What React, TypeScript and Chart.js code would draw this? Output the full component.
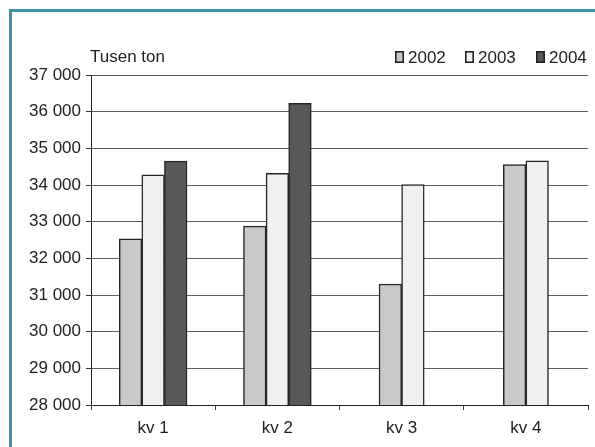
import React, { useEffect, useRef } from "react";
import { Chart, registerables } from "chart.js";

Chart.register(...registerables);

const categories = ["kv 1", "kv 2", "kv 3", "kv 4"];
const seriesNames = ["2002", "2003", "2004"];
const values2002 = [32530, 32880, 31300, 34560];
const values2003 = [34280, 34320, 34010, 34660];
const values2004: (number | null)[] = [34650, 36230, null, null];
const yMin = 28000;
const yMax = 37000;
const yStep = 1000;
const unitLabel = "Tusen ton";

const seriesColors = ["#c8c9cb", "#eff0f2", "#58585a"];
const FONT_FAMILY = '"Liberation Sans", Arial, Helvetica, sans-serif';
const FONT_SIZE = 17;
const TEXT_COLOR = "#222222";

const formatThousands = (v: number) =>
  String(Math.round(v)).replace(/\B(?=(\d{3})+(?!\d))/g, " ");

const overlayPlugin = {
  id: "overlay",
  afterDraw(chart: any) {
    const ctx = chart.ctx as CanvasRenderingContext2D;
    ctx.save();
    ctx.font = `${FONT_SIZE}px ${FONT_FAMILY}`;
    ctx.fillStyle = TEXT_COLOR;
    ctx.textBaseline = "alphabetic";
    ctx.textAlign = "left";
    ctx.fillText(unitLabel, 90, 62);
    const boxXs = [395, 465, 536];
    seriesNames.forEach((name, i) => {
      const bx = boxXs[i];
      ctx.fillStyle = seriesColors[i];
      ctx.fillRect(bx, 51, 9, 12);
      ctx.strokeStyle = "#222222";
      ctx.lineWidth = 1.6;
      ctx.strokeRect(bx + 0.8, 51.8, 7.4, 10.4);
      ctx.fillStyle = TEXT_COLOR;
      ctx.fillText(name, bx + 13, 63);
    });
    ctx.restore();
  },
};

export default function App() {
  const canvasRef = useRef<HTMLCanvasElement | null>(null);

  useEffect(() => {
    if (!canvasRef.current) return;
    const data = [values2002, values2003, values2004];
    const chart = new Chart(canvasRef.current, {
      type: "bar",
      data: {
        labels: categories,
        datasets: seriesNames.map((name, i) => ({
          label: name,
          data: data[i],
          backgroundColor: seriesColors[i],
          borderColor: "#262626",
          borderWidth: 1.5,
          borderSkipped: false,
          barThickness: 22.6,
          skipNull: true,
        })),
      },
      options: {
        responsive: false,
        animation: false,
        events: [],
        layout: { padding: { top: 75, right: 7, left: 0, bottom: 0 } },
        plugins: {
          legend: { display: false },
          title: { display: false },
          tooltip: { enabled: false },
        },
        scales: {
          x: {
            offset: true,
            grid: {
              offset: true,
              drawOnChartArea: false,
              drawTicks: true,
              tickLength: 5,
              tickColor: "#333333",
            },
            border: { display: true, color: "#222222", width: 1 },
            ticks: {
              color: TEXT_COLOR,
              font: { family: FONT_FAMILY, size: FONT_SIZE },
              padding: 8,
              maxRotation: 0,
            },
            afterFit(scale: any) {
              scale.height = 42;
            },
          },
          y: {
            min: yMin,
            max: yMax,
            grid: {
              color: "#5e5e5e",
              lineWidth: 1,
              drawTicks: true,
              tickLength: 5,
              tickColor: "#333333",
            },
            border: { display: true, color: "#222222", width: 1 },
            ticks: {
              stepSize: yStep,
              color: TEXT_COLOR,
              font: { family: FONT_FAMILY, size: FONT_SIZE },
              padding: 5,
              callback: (v: any) => formatThousands(Number(v)),
            },
            afterFit(scale: any) {
              scale.width = 91;
            },
          },
        },
      },
      plugins: [overlayPlugin],
    });
    return () => chart.destroy();
  }, []);

  return (
    <div
      style={{
        position: "fixed",
        left: 0,
        top: 0,
        width: 595,
        height: 447,
        background: "#ffffff",
        overflow: "hidden",
      }}
    >
      <canvas
        ref={canvasRef}
        width={595}
        height={447}
        style={{ position: "absolute", left: 0, top: 0, width: 595, height: 447 }}
      />
      <div
        style={{
          position: "absolute",
          left: 9,
          top: 9,
          width: 700,
          height: 600,
          borderLeft: "3px solid #3d91a8",
          borderTop: "3px solid #3d91a8",
          pointerEvents: "none",
        }}
      />
    </div>
  );
}
